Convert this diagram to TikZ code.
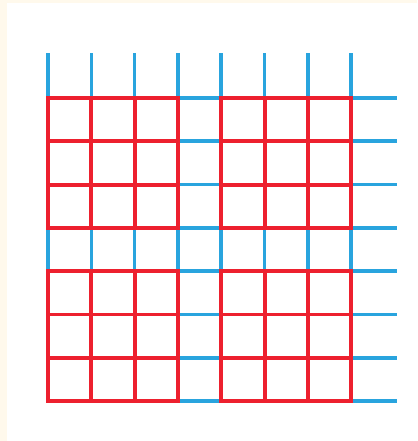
\documentclass[tikz,border=0pt]{standalone}
\usepackage{tikz}
\definecolor{gridred}{RGB}{237,32,46}
\definecolor{gridblue}{RGB}{41,164,222}
\definecolor{cream}{RGB}{255,249,236}
\tikzset{
    redline/.style={
        line width=2.6pt,
        line cap=rect,
        gridred
    },
    blueline/.style={
        line width=2.4pt,
        gridblue
    }
}

\begin{document}
\begin{tikzpicture}[x=1cm,y=-1cm]

% background
\fill[cream] (-1.109,-2.263) rectangle (8.522,7.921);
\fill[white] (-0.947,-2.194) rectangle (8.522,7.921);
\useasboundingbox (-1.109,-2.263) rectangle (8.522,7.921);

% blue combs
\foreach \bx/\by in {0/0,4/0,0/4,4/4}{
    \begin{scope}[shift={(\bx,\by)}]
        \foreach \i in {0,...,3}{
            \draw[blueline] (\i,-1.03) -- (\i,0);
            \draw[blueline] (3,\i) -- (4.05,\i);
        }
    \end{scope}
}

% red squares
\foreach \bx/\by in {0/0,4/0,0/4,4/4}{
    \begin{scope}[shift={(\bx,\by)}]
        \foreach \i in {0,...,3}{
            \draw[redline] (\i,0) -- (\i,3);
            \draw[redline] (0,\i) -- (3,\i);
        }
    \end{scope}
}

\end{tikzpicture}
\end{document}
